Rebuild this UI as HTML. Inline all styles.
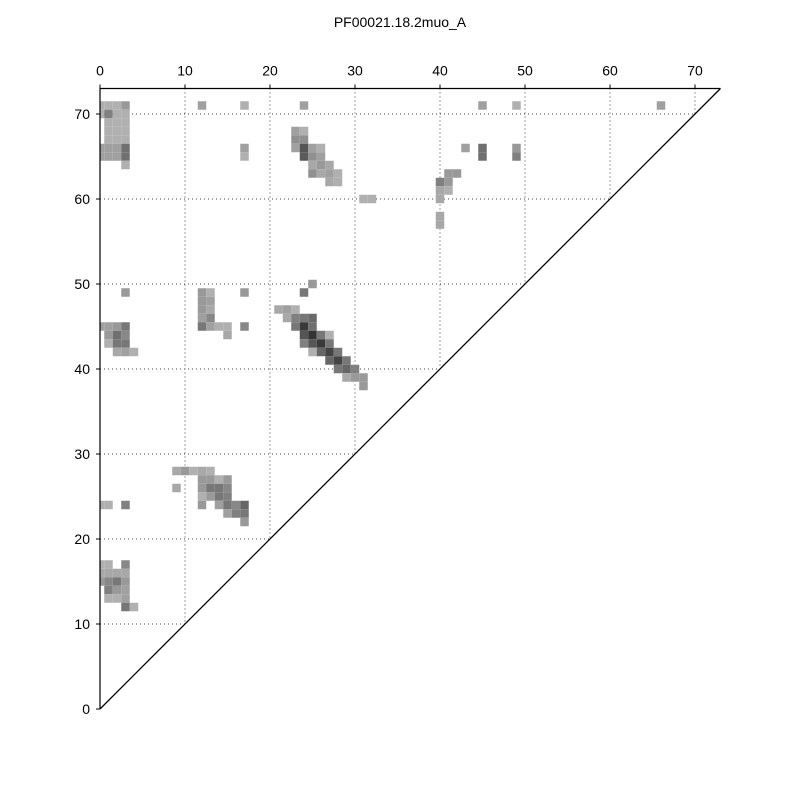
<!DOCTYPE html>
<html><head><meta charset="utf-8"><style>
body{margin:0;background:#fff;}
svg text{font-family:"Liberation Sans",sans-serif;}
</style></head><body>
<svg id="chart" width="800" height="800" xmlns="http://www.w3.org/2000/svg">
<text x="400" y="27" font-size="14" text-anchor="middle">PF00021.18.2muo_A</text>
<g id="grid"></g>
<g id="cells"></g>
<g id="axes"></g>
</svg>
<script>
const tickValues=[0,10,20,30,40,50,60,70];
const axisMax=73;
// contact cells: column index, row index, gray level (0-255)
const cellCols=[0,1,2,3, 0,1,2,3, 1,2,3,1,2,3,1,2,3, 0,1,2,3, 0,1,2,3, 3,
12,17,24,17,17,
23,24, 23,24, 23,24,25,26, 24,25,26, 25,26,27, 25,26,27,28, 27,28,
43,45,45,49,49,41,42,40,41,40,41,40,40,40,31,32,45,49,66,
25,3,24,17,12,13,12,13,12,13,12,13,12,13,14,15,17,15,
0,1,2,3,1,2,3,1,2,3,2,3,4,
21,22,23,22,23,24,25,23,24,25,24,25,26,27,24,25,26,27,25,26,27,28,27,28,29,28,29,30,29,30,31,31,
9,10,11,12,13,12,13,14,15,9,12,13,14,15,12,13,14,15,0,1,3,12,14,15,16,17,15,16,17,17,
0,1,3,0,1,2,3,0,1,2,3,1,2,3,1,2,3,3,4];
const cellRows=[71,71,71,71, 70,70,70,70, 69,69,69,68,68,68,67,67,67, 66,66,66,66, 65,65,65,65, 64,
71,71,71,66,65,
68,68, 67,67, 66,66,66,66, 65,65,65, 64,64,64, 63,63,63,63, 62,62,
66,66,65,66,65,63,63,62,62,61,61,60,58,57,60,60,71,71,71,
50,49,49,49,49,49,48,48,47,47,46,46,45,45,45,45,45,44,
45,45,45,45,44,44,44,43,43,43,42,42,42,
47,47,47,46,46,46,46,45,45,45,44,44,44,44,43,43,43,43,42,42,42,42,41,41,41,40,40,40,39,39,39,38,
28,28,28,28,28,27,27,27,27,26,26,26,26,26,25,25,25,25,24,24,24,24,24,24,24,24,23,23,23,22,
17,17,17,16,16,16,16,15,15,15,15,14,14,14,13,13,13,12,12];
const cellGray=[176,176,176,153, 176,128,176,176, 176,176,176,176,176,176,176,176,176, 160,160,160,112, 160,160,160,112, 176,
160,176,160,160,176,
160,176, 144,144, 160,85,160,176, 90,144,160, 168,153,168, 144,168,160,176, 168,176,
160,112,112,153,128,153,153,128,153,168,176,168,168,168,176,176,160,176,160,
153,153,119,153,153,176,153,160,153,168,160,136,119,160,176,176,136,168,
160,160,153,119,153,112,136,176,119,119,168,160,176,
168,160,176,168,128,119,106,119,58,112,85,51,119,176,128,85,58,119,176,102,68,119,102,68,119,119,102,128,168,153,153,153,
168,153,176,168,176,153,153,176,153,168,153,119,119,136,176,153,119,128,176,176,128,153,160,119,136,102,160,128,119,153,
176,176,136,168,168,168,168,153,136,119,153,128,153,160,176,176,160,119,176];
const NS="http://www.w3.org/2000/svg";
const X0=100,Y0=709,S=8.5;
function xs(v){return X0+v*S;}
function ys(v){return Y0-v*S;}
function mk(t,a){const e=document.createElementNS(NS,t);for(const k in a)e.setAttribute(k,a[k]);return e;}
const gridG=document.getElementById('grid'),cellsG=document.getElementById('cells'),axesG=document.getElementById('axes');
tickValues.forEach(v=>{
  if(v===0)return;
  const vl=mk('line',{x1:xs(v),y1:ys(axisMax),x2:xs(v),y2:ys(v),stroke:'#444','stroke-dasharray':'1,3','stroke-width':1});
  
  
  gridG.appendChild(vl);
  const hl=mk('line',{x1:xs(0),y1:ys(v),x2:xs(v),y2:ys(v),stroke:'#444','stroke-dasharray':'1,3','stroke-width':1});
  
  
  gridG.appendChild(hl);
});
for(let i=0;i<cellCols.length;i++){
  const x1=Math.max(xs(cellCols[i]-0.5),X0),x2=xs(cellCols[i]+0.5);
  const g=cellGray[i];
  const r=mk('rect',{x:x1,y:ys(cellRows[i]+0.5),width:x2-x1,height:S,fill:`rgb(${g},${g},${g})`});
  
  
  cellsG.appendChild(r);
}
const topAxis=mk('line',{x1:xs(0),y1:ys(axisMax),x2:xs(axisMax),y2:ys(axisMax),stroke:'#000','stroke-width':1.2});


axesG.appendChild(topAxis);
const leftAxis=mk('line',{x1:xs(0),y1:ys(axisMax),x2:xs(0),y2:ys(0),stroke:'#000','stroke-width':1.2});


axesG.appendChild(leftAxis);
const diag=mk('line',{x1:xs(0),y1:ys(0),x2:xs(axisMax),y2:ys(axisMax),stroke:'#000','stroke-width':1.3});


axesG.appendChild(diag);
tickValues.forEach(v=>{
  const tx=mk('line',{x1:xs(v),y1:ys(axisMax),x2:xs(v),y2:ys(axisMax)-4,stroke:'#000'});
  
  
  axesG.appendChild(tx);
  const lx=mk('text',{x:xs(v),y:ys(axisMax)-13,'font-size':14,'text-anchor':'middle'});
  lx.textContent=v;
  
  
  axesG.appendChild(lx);
  const ty=mk('line',{x1:xs(0)-4,y1:ys(v),x2:xs(0),y2:ys(v),stroke:'#000'});
  
  
  axesG.appendChild(ty);
  const ly=mk('text',{x:xs(0)-10,y:ys(v)+5,'font-size':14,'text-anchor':'end'});
  ly.textContent=v;
  
  
  axesG.appendChild(ly);
});
</script>
</body></html>
